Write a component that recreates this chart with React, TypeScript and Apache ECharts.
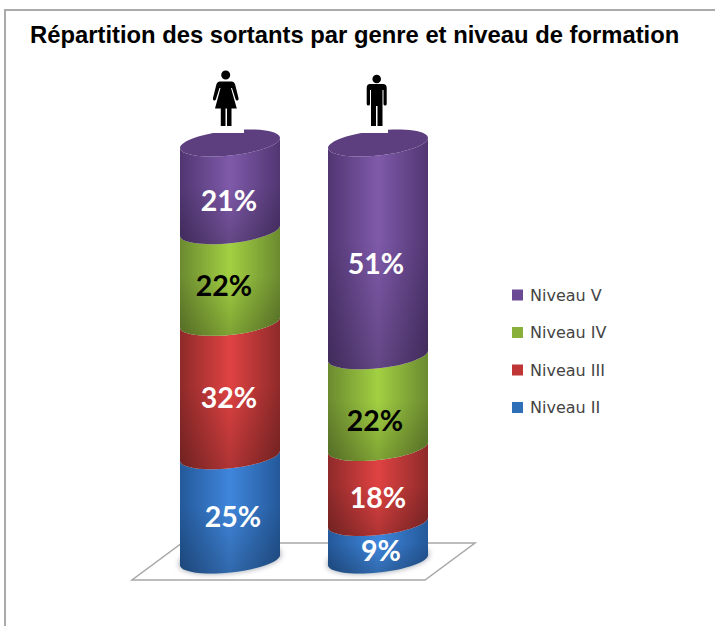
import React, { useEffect, useRef } from "react";
import * as echarts from "echarts";

const categories = ["Femmes", "Hommes"];
const niveauII = [25, 9];
const niveauIII = [32, 18];
const niveauIV = [22, 22];
const niveauV = [21, 51];
const seriesNames = ["Niveau II", "Niveau III", "Niveau IV", "Niveau V"];
const legendOrder = ["Niveau V", "Niveau IV", "Niveau III", "Niveau II"];
const title = "Répartition des sortants par genre et niveau de formation";

const seriesValues = [niveauII, niveauIII, niveauIV, niveauV];
const palette = [
  { base: "#2f6fb8", edge: "#24599a", mid: "#3f86dc" },
  { base: "#c03535", edge: "#8f2a2a", mid: "#e04242" },
  { base: "#8ab03c", edge: "#6b8a30", mid: "#a2d042" },
  { base: "#6a4a94", edge: "#513672", mid: "#7f5aaa" },
];
const labelColors = ["#ffffff", "#ffffff", "#000000", "#ffffff"];
// small manual placement corrections of the data labels, [dx, dy] per series and category
const labelNudges = [
  [[3, -4], [3, -4]],
  [[-1, -5], [0, 0]],
  [[-6, -4], [-3, 6]],
  [[-1, 1], [-2, 1]],
];

const TILT = 6.2;
const MINOR_RATIO = 0.25;
const WOMAN =
  "M221.2 75a4.5 4.5 0 1 0 9 0a4.5 4.5 0 1 0 -9 0Z" +
  "M219.5 81.5L232 81.5Q234 81.5 235 84L238.5 98Q239 100 237.5 100.5Q236 101 235.5 99L232 88L231 88L236.8 108.5L231.5 108.5L231.5 126L227 126L227 108.5L225.5 108.5L225.5 126L220.8 126L220.8 108.5L215 108.5L220.5 88L219.5 88L216 99Q215.5 101 214 100.5Q212.5 100 213 98L216.5 84Q217.5 81.5 219.5 81.5Z";
const MAN =
  "M372.4 79a4.3 4.3 0 1 0 8.6 0a4.3 4.3 0 1 0 -8.6 0Z" +
  "M370 84L383 84Q386.7 84 386.7 88L386.7 104Q386.7 105.5 385 105.5Q383.5 105.5 383.5 104L383.5 90L382.5 90L382.5 126L377.5 126L377.5 106L376 106L376 126L371 126L371 90L370 90L370 104Q370 105.5 368.3 105.5Q366.7 105.5 366.7 104L366.7 88Q366.7 84 370 84Z";

function registerIcons() {
  const g: any = echarts.graphic;
  g.registerShape("womanIcon", g.extendPath(WOMAN, {}));
  g.registerShape("manIcon", g.extendPath(MAN, {}));
}
registerIcons();

// Tilted-ellipse helper built from cubic curves (rotated arc commands do not survive the SVG renderer)
function ellipseTools(cx: number, halfW: number) {
  const phi = (TILT * Math.PI) / 180;
  const sin = Math.sin(phi);
  const cos = Math.cos(phi);
  const b = halfW * MINOR_RATIO;
  const a = Math.sqrt((halfW * halfW - b * b * sin * sin) / (cos * cos));
  const tRight = Math.atan2(b * sin, a * cos);
  const pt = (t: number, cy: number) => [
    cx + a * Math.cos(t) * cos + b * Math.sin(t) * sin,
    cy - a * Math.cos(t) * sin + b * Math.sin(t) * cos,
  ];
  const dpt = (t: number) => [
    -a * Math.sin(t) * cos + b * Math.cos(t) * sin,
    a * Math.sin(t) * sin + b * Math.cos(t) * cos,
  ];
  const curve = (t0: number, t1: number, cy: number) => {
    const n = 4;
    const d = (t1 - t0) / n;
    const k = (4 / 3) * Math.tan(d / 4);
    let out = "";
    for (let i = 0; i < n; i++) {
      const s = t0 + i * d;
      const e = s + d;
      const p0 = pt(s, cy);
      const p1 = pt(e, cy);
      const d0 = dpt(s);
      const d1 = dpt(e);
      out += `C${p0[0] + k * d0[0]} ${p0[1] + k * d0[1]} ${p1[0] - k * d1[0]} ${p1[1] - k * d1[1]} ${p1[0]} ${p1[1]}`;
    }
    return out;
  };
  const tLeft = tRight + Math.PI;
  const start = (t: number, cy: number) => {
    const p = pt(t, cy);
    return `${p[0]} ${p[1]}`;
  };
  return {
    b,
    body: (yLo: number, yHi: number) =>
      `M${start(tLeft, yLo)}${curve(tLeft, tRight, yLo)}L${start(tRight, yHi)}${curve(tRight, tLeft, yHi)}Z`,
    full: (y: number) => `M${start(tLeft, y)}${curve(tLeft, tRight, y)}${curve(tRight, tRight - Math.PI, y)}Z`,
  };
}

function buildSeries() {
  const cumulative = categories.map(() => 0);
  return seriesValues.map((values, s) => {
    const data = values.map((v, c) => {
      const start = cumulative[c];
      cumulative[c] += v;
      return [c, start, cumulative[c], v];
    });
    const colors = palette[s];
    return {
      name: seriesNames[s],
      type: "custom",
      coordinateSystem: "cartesian2d",
      z: 2 + s,
      itemStyle: { color: colors.base },
      encode: { x: 0, y: [1, 2] },
      data,
      renderItem: (params: any, api: any) => {
        const c = api.value(0);
        const lo = api.coord([c, api.value(1)]);
        const hi = api.coord([c, api.value(2)]);
        const band = api.size([1, 0])[0];
        const halfW = (band * 50) / 148;
        const cx = lo[0];
        const tools = ellipseTools(cx, halfW);
        const body = tools.body(lo[1], hi[1]);
        const children: any[] = [];
        if (api.value(1) === 0) {
          children.push({
            type: "path",
            shape: { pathData: tools.full(lo[1] - 1) },
            style: { fill: "#1d3f66", shadowBlur: 6, shadowColor: "rgba(20,30,50,0.6)" },
          });
        }
        children.push({
          type: "path",
          shape: { pathData: body },
          style: {
            fill: new echarts.graphic.LinearGradient(0, 0, 1, 0, [
              { offset: 0, color: colors.edge },
              { offset: 0.5, color: colors.mid },
              { offset: 1, color: colors.edge },
            ]),
          },
        });
        children.push({
          type: "path",
          shape: { pathData: body },
          style: {
            fill: new echarts.graphic.LinearGradient(0, 0, 0, 1, [
              { offset: 0, color: "rgba(0,0,0,0)" },
              { offset: 0.45, color: "rgba(0,0,0,0)" },
              { offset: 1, color: "rgba(0,0,0,0.22)" },
            ]),
          },
        });
        if (api.value(2) >= 100) {
          children.push({ type: "path", shape: { pathData: tools.full(hi[1]) }, style: { fill: "#5d3f80" } });
        }
        const nudge = labelNudges[s][c];
        children.push({
          type: "text",
          z2: 20,
          style: {
            text: `${api.value(3)}%`,
            x: cx + nudge[0],
            y: (lo[1] + hi[1]) / 2 + tools.b + nudge[1],
            fill: labelColors[s],
            font: "bold 28.5px Lato",
            align: "center",
            verticalAlign: "middle",
          },
        });
        return { type: "group", children };
      },
    };
  });
}

export default function App() {
  const ref = useRef<HTMLDivElement>(null);
  useEffect(() => {
    const chart = echarts.init(ref.current!, undefined, { renderer: "svg" });
    chart.setOption({
      animation: false,
      backgroundColor: "#ffffff",
      title: {
        text: title,
        left: 25,
        top: 17,
        textStyle: { fontFamily: "Liberation Sans", fontWeight: "bold", fontSize: 23.8, color: "#000" },
      },
      legend: {
        orient: "vertical",
        left: 512,
        top: 287,
        padding: 0,
        data: legendOrder,
        icon: "rect",
        itemWidth: 11,
        itemHeight: 11,
        itemGap: 21.5,
        selectedMode: false,
        textStyle: { fontFamily: "DejaVu Sans", fontSize: 16, color: "#444", padding: [0, 0, 0, 2] },
      },
      grid: { left: 156, right: 715 - 452, top: 143, bottom: 626 - 560 },
      xAxis: { type: "category", data: categories, show: false },
      yAxis: { type: "value", min: 0, max: 100, show: false },
      series: buildSeries(),
      graphic: [
        {
          type: "polyline",
          z: 0,
          silent: true,
          shape: { points: [[5, 626], [5, 10], [715, 10]] },
          style: { stroke: "#aaaaaa", lineWidth: 2, fill: "none" },
        },
        {
          type: "polygon",
          z: 0,
          silent: true,
          shape: { points: [[132, 580], [425, 580], [475, 543], [182, 543]] },
          style: { stroke: "#a8a8a8", lineWidth: 1.5, fill: "#ffffff" },
        },
        { type: "rect", z: 50, silent: true, shape: { x: 170, y: 115, width: 74, height: 18 }, style: { fill: "#fff" } },
        { type: "rect", z: 50, silent: true, shape: { x: 320, y: 115, width: 68, height: 18 }, style: { fill: "#fff" } },
        { type: "womanIcon", z: 60, silent: true, x: 0, y: 0, style: { fill: "#000" } },
        { type: "manIcon", z: 60, silent: true, x: 0, y: 0, style: { fill: "#000" } },
      ],
    });
    return () => chart.dispose();
  }, []);
  return <div ref={ref} style={{ position: "absolute", left: 0, top: 0, width: 715, height: 626 }} />;
}
